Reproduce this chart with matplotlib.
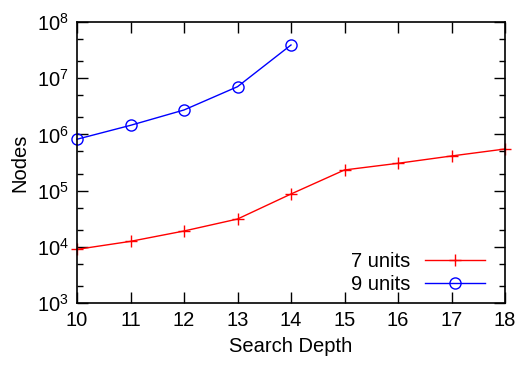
import matplotlib
matplotlib.use("Agg")
import matplotlib.pyplot as plt
from matplotlib.ticker import LogLocator, FixedLocator

plt.rcParams['font.family'] = ['Liberation Sans', 'DejaVu Sans']
plt.rcParams['mathtext.fontset'] = 'custom'
plt.rcParams['mathtext.rm'] = 'Liberation Sans'

depth7 = [10, 11, 12, 13, 14, 15, 16, 17, 18]
nodes7 = [9.0e3, 1.25e4, 1.91e4, 3.12e4, 8.7e4, 2.33e5, 3.06e5, 4.13e5, 5.5e5]
depth9 = [10, 11, 12, 13, 14]
nodes9 = [8.2e5, 1.45e6, 2.72e6, 7.06e6, 3.9e7]
xticks = [10, 11, 12, 13, 14, 15, 16, 17, 18]

fig = plt.figure(figsize=(5.18, 3.65), dpi=100)
ax = fig.add_axes([77/518, 1 - 303/365, (505-77)/518, (303-22)/365])

ax.plot(depth7, nodes7, color='#ff0000', lw=1, marker='+', ms=9, mew=1,
        label='7 units', clip_on=False)
ax.plot(depth9, nodes9, color='#0000ff', lw=1, marker='o', ms=8, mfc='none',
        mew=1, label='9 units', clip_on=False)

ax.set_yscale('log')
ax.set_xlim(10, 18)
ax.set_ylim(1e3, 1e8)
ax.xaxis.set_major_locator(FixedLocator(xticks))
ax.yaxis.set_major_locator(LogLocator(base=10, numticks=10))
ax.yaxis.set_minor_locator(LogLocator(base=10, subs=[2, 5], numticks=10))
ax.tick_params(which='both', direction='in', top=True, right=True, labelsize=14.5,
               width=1)
ax.tick_params(which='major', length=8, pad=6)
ax.tick_params(which='minor', length=4)
ax.tick_params(axis='x', which='minor', bottom=False, top=False)
for s in ax.spines.values():
    s.set_linewidth(1.2)

ax.set_xlabel('Search Depth', fontsize=14.5, labelpad=5)
ax.set_ylabel('Nodes', fontsize=14.5, labelpad=5)

leg = ax.legend(loc='lower right', frameon=False, fontsize=14.5, markerfirst=False,
                handlelength=3.0, handletextpad=0.7, labelspacing=0.2,
                borderaxespad=0.05, bbox_to_anchor=(0.975, 0.0))
for t in leg.get_texts():
    t.set_ha('right')

fig.savefig('out.png', dpi=100)
